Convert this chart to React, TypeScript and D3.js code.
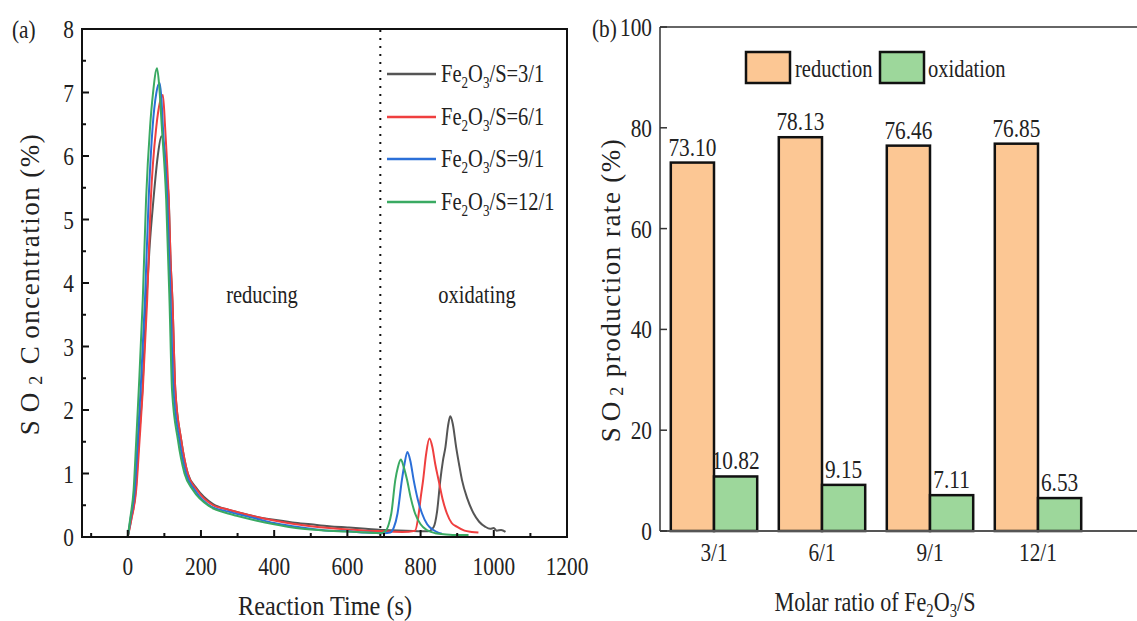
import React from "react";
import * as d3 from "d3";

// ---------- DATA ----------
const seriesNames = ["3/1", "6/1", "9/1", "12/1"];
const seriesColors = ["#555555", "#ef3f3f", "#2b6fd8", "#3aaa62"];

const curve3: [number, number][] = [
  [0, 0], [10, 0.3], [22, 0.74], [30, 1.5], [40, 2.31], [51, 3.73], [60, 4.6], [70, 5.3], [82, 6.0], [92, 6.31],
  [100, 6.1], [106, 5.7], [112, 5.31], [117, 4.36], [122, 3.73], [130, 2.31], [146, 1.53], [164, 1.0], [189, 0.76],
  [233, 0.52], [275, 0.43], [300, 0.39], [350, 0.32], [400, 0.27], [450, 0.23], [500, 0.2], [550, 0.17], [600, 0.15],
  [650, 0.13], [700, 0.11], [760, 0.1], [820, 0.09], [835, 0.15], [845, 0.4], [854, 0.9], [861, 1.2], [868, 1.42],
  [875, 1.75], [881, 1.9], [888, 1.78], [897, 1.42], [905, 1.15], [913, 0.9], [928, 0.6], [945, 0.37], [960, 0.24],
  [977, 0.16], [990, 0.13], [1000, 0.14], [1008, 0.1], [1020, 0.11], [1032, 0.08],
];
const curve6: [number, number][] = [
  [0, 0], [10, 0.28], [23, 0.74], [32, 1.5], [41, 2.31], [53, 3.73], [63, 5.31], [78, 6.46], [88, 6.85], [96, 6.96],
  [102, 6.46], [107, 5.94], [112, 5.31], [117, 4.36], [122, 3.73], [130, 2.31], [146, 1.53], [164, 1.0], [189, 0.74],
  [233, 0.5], [275, 0.43], [300, 0.39], [350, 0.32], [400, 0.26], [450, 0.21], [500, 0.17], [550, 0.14], [600, 0.12],
  [650, 0.1], [700, 0.09], [750, 0.08], [785, 0.1], [795, 0.37], [801, 0.65], [807, 0.9], [815, 1.3], [824, 1.55],
  [832, 1.42], [840, 1.15], [849, 0.9], [860, 0.6], [872, 0.37], [885, 0.22], [900, 0.16], [920, 0.1], [940, 0.08],
  [958, 0.07],
];
const curve9: [number, number][] = [
  [0, 0], [8, 0.3], [19, 0.74], [27, 1.5], [35, 2.31], [47, 3.73], [57, 5.31], [68, 6.46], [78, 6.99], [87, 7.15],
  [92, 6.9], [96, 6.46], [108, 5.31], [117, 3.73], [125, 2.31], [141, 1.53], [159, 1.0], [183, 0.74], [228, 0.48],
  [275, 0.4], [300, 0.36], [350, 0.29], [400, 0.22], [450, 0.17], [500, 0.13], [550, 0.1], [600, 0.09], [650, 0.07],
  [700, 0.06], [717, 0.07], [727, 0.15], [737, 0.37], [749, 0.9], [756, 1.15], [764, 1.34], [772, 1.2], [781, 0.9],
  [792, 0.6], [804, 0.37], [818, 0.2], [835, 0.11], [848, 0.07], [858, 0.05],
];
const curve12: [number, number][] = [
  [0, 0], [7, 0.3], [16, 0.74], [23, 1.5], [30, 2.31], [41, 3.73], [50, 5.31], [61, 6.46], [69, 6.99], [80, 7.38],
  [86, 7.1], [93, 6.46], [105, 5.31], [114, 3.73], [121, 2.31], [137, 1.53], [155, 1.0], [178, 0.74], [224, 0.48],
  [274, 0.37], [300, 0.33], [350, 0.26], [400, 0.2], [450, 0.15], [500, 0.12], [550, 0.1], [600, 0.085], [650, 0.07],
  [690, 0.06], [705, 0.1], [713, 0.2], [720, 0.37], [731, 0.9], [738, 1.1], [746, 1.22], [754, 1.1], [763, 0.9],
  [773, 0.62], [785, 0.37], [800, 0.2], [817, 0.11], [840, 0.06], [870, 0.04], [900, 0.03], [931, 0.03],
];
const curves = [curve3, curve6, curve9, curve12];

const xTicksLeft = [0, 200, 400, 600, 800, 1000, 1200];
const yTicksLeft = [0, 1, 2, 3, 4, 5, 6, 7, 8];
const phaseBoundary = 690;

const ratios = ["3/1", "6/1", "9/1", "12/1"];
const reduction = [73.1, 78.13, 76.46, 76.85];
const oxidation = [10.82, 9.15, 7.11, 6.53];
const reductionLabels = ["73.10", "78.13", "76.46", "76.85"];
const oxidationLabels = ["10.82", "9.15", "7.11", "6.53"];
const yTicksRight = [0, 20, 40, 60, 80, 100];

// ---------- HELPERS ----------
const FONT = "'Liberation Serif', 'Times New Roman', serif";
const SX = 0.82;

function T({ x, y, anchor = "start", size = 25, rotate = 0, sx = SX, spacing = 0, children, fill = "#222" }: any) {
  return (
    <text
      transform={`translate(${x},${y}) rotate(${rotate}) scale(${sx},1)`}
      textAnchor={anchor}
      fontSize={size}
      fontFamily={FONT}
      letterSpacing={spacing}
      fill={fill}
    >
      {children}
    </text>
  );
}

export default function App() {
  // Left panel scales
  const xL = d3.scaleLinear().domain([-125, 1200]).range([82, 567]);
  const yL = d3.scaleLinear().domain([0, 8]).range([537, 29]);
  const line = d3
    .line<[number, number]>()
    .x((d) => xL(d[0]))
    .y((d) => yL(d[1]))
    .curve(d3.curveMonotoneX);

  const xMinor = d3.range(-100, 1201, 100).filter((v) => v % 200 !== 0);
  const yMinor = d3.range(0.5, 8, 1);

  // Right panel scales
  const yR = d3.scaleLinear().domain([0, 100]).range([531, 27]);
  const xR = d3.scaleBand().domain(ratios).range([660, 1092]).paddingInner(0.2).paddingOuter(0.1);
  const bw = xR.bandwidth() / 2;

  const legendY = [74, 117, 159, 202];

  return (
    <svg width={1137} height={621} style={{ position: "absolute", left: 0, top: 0, background: "#fff" }}>
      {/* ---------- LEFT PANEL ---------- */}
      <T x={12} y={38} size={26}>(a)</T>
      <defs>
        <clipPath id="clipL">
          <rect x={82} y={29} width={485} height={508} />
        </clipPath>
      </defs>
      <g clipPath="url(#clipL)">
        {curves.map((c, i) => (
          <path key={i} d={line(c) || ""} fill="none" stroke={seriesColors[i]} strokeWidth={2} strokeLinejoin="round" />
        ))}
      </g>
      {/* dotted boundary */}
      <line x1={xL(phaseBoundary)} x2={xL(phaseBoundary)} y1={30} y2={536} stroke="#111" strokeWidth={2} strokeDasharray="2,6" />
      {/* frame */}
      <rect x={82} y={29} width={485} height={508} fill="none" stroke="#111" strokeWidth={2} />
      {/* x ticks */}
      {xTicksLeft.map((t) => (
        <g key={"xt" + t}>
          <line x1={xL(t)} x2={xL(t)} y1={537} y2={530} stroke="#111" strokeWidth={2} />
          <T x={xL(t)} y={575} anchor="middle" size={26}>{t}</T>
        </g>
      ))}
      {xMinor.map((t) => (
        <line key={"xm" + t} x1={xL(t)} x2={xL(t)} y1={537} y2={533} stroke="#111" strokeWidth={2} />
      ))}
      {/* y ticks */}
      {yTicksLeft.map((t) => (
        <g key={"yt" + t}>
          <line x1={82} x2={89} y1={yL(t)} y2={yL(t)} stroke="#111" strokeWidth={2} />
          <T x={74} y={yL(t) + 9} anchor="end" size={26}>{t}</T>
        </g>
      ))}
      {yMinor.map((t) => (
        <line key={"ym" + t} x1={82} x2={86} y1={yL(t)} y2={yL(t)} stroke="#111" strokeWidth={2} />
      ))}
      {/* axis titles */}
      <T x={325} y={615} anchor="middle" size={27} sx={0.9}>Reaction Time (s)</T>
      <T x={39} y={284} anchor="middle" size={27} rotate={-90} sx={1} spacing={1.5}>
        <tspan letterSpacing={8}>SO</tspan>
        <tspan dy={3} fontSize={18}>2</tspan>
        <tspan dy={-3} dx={10}>C</tspan>
        <tspan dx={6}>oncentration</tspan>
        <tspan dx={8}>(%)</tspan>
      </T>
      {/* phase labels */}
      <T x={262} y={303} anchor="middle" size={25}>reducing</T>
      <T x={477} y={303} anchor="middle" size={25}>oxidating</T>
      {/* legend */}
      {seriesNames.map((n, i) => (
        <g key={"lg" + i}>
          <line x1={387} x2={436} y1={legendY[i]} y2={legendY[i]} stroke={seriesColors[i]} strokeWidth={2.5} />
          <T x={441} y={legendY[i] + 8} size={25}>
            <tspan>Fe</tspan>
            <tspan dy={6} fontSize={16}>2</tspan>
            <tspan dy={-6}>O</tspan>
            <tspan dy={6} fontSize={16}>3</tspan>
            <tspan dy={-6}>{"/S=" + n}</tspan>
          </T>
        </g>
      ))}

      {/* ---------- RIGHT PANEL ---------- */}
      <T x={592} y={37} size={26}>(b)</T>
      {/* bars */}
      {ratios.map((r, i) => {
        const x0 = xR(r) as number;
        return (
          <g key={"bar" + r}>
            <rect x={x0} y={yR(reduction[i])} width={bw} height={yR(0) - yR(reduction[i])} fill="#fcc794" stroke="#111" strokeWidth={2.5} />
            <rect x={x0 + bw} y={yR(oxidation[i])} width={bw} height={yR(0) - yR(oxidation[i])} fill="#9dd79b" stroke="#111" strokeWidth={2.5} />
            <T x={x0 + bw / 2} y={yR(reduction[i]) - 7} anchor="middle" size={26}>{reductionLabels[i]}</T>
            <T x={x0 + bw * 1.5} y={yR(oxidation[i]) - 7} anchor="middle" size={26}>{oxidationLabels[i]}</T>
            <T x={x0 + bw} y={561} anchor="middle" size={26}>{r}</T>
          </g>
        );
      })}
      {/* frame */}
      <line x1={660} x2={1137} y1={27} y2={27} stroke="#333" strokeWidth={1.5} />
      <line x1={660} x2={660} y1={27} y2={531} stroke="#333" strokeWidth={1.5} />
      <line x1={660} x2={1137} y1={531} y2={531} stroke="#555" strokeWidth={2} />
      {yTicksRight.map((t) => (
        <g key={"yr" + t}>
          <line x1={660} x2={667} y1={yR(t)} y2={yR(t)} stroke="#333" strokeWidth={1.5} />
          <T x={652} y={yR(t) + 9} anchor="end" size={26}>{t}</T>
        </g>
      ))}
      {/* legend */}
      <rect x={746} y={52} width={44} height={31} fill="#fcc794" stroke="#111" strokeWidth={2.5} />
      <T x={795} y={77} size={25}>reduction</T>
      <rect x={880} y={52} width={44} height={31} fill="#9dd79b" stroke="#111" strokeWidth={2.5} />
      <T x={928} y={77} size={25}>oxidation</T>
      {/* axis titles */}
      <T x={875} y={611} anchor="middle" size={27}>
        <tspan>Molar ratio of  Fe</tspan>
        <tspan dy={6} fontSize={18}>2</tspan>
        <tspan dy={-6}>O</tspan>
        <tspan dy={6} fontSize={18}>3</tspan>
        <tspan dy={-6}>/S</tspan>
      </T>
      <T x={620} y={290} anchor="middle" size={27} rotate={-90} sx={1} spacing={1.5}>
        <tspan letterSpacing={6}>SO</tspan>
        <tspan dy={3} fontSize={18}>2</tspan>
        <tspan dy={-3} dx={8}>production rate</tspan>
        <tspan dx={8}>(%)</tspan>
      </T>
    </svg>
  );
}
